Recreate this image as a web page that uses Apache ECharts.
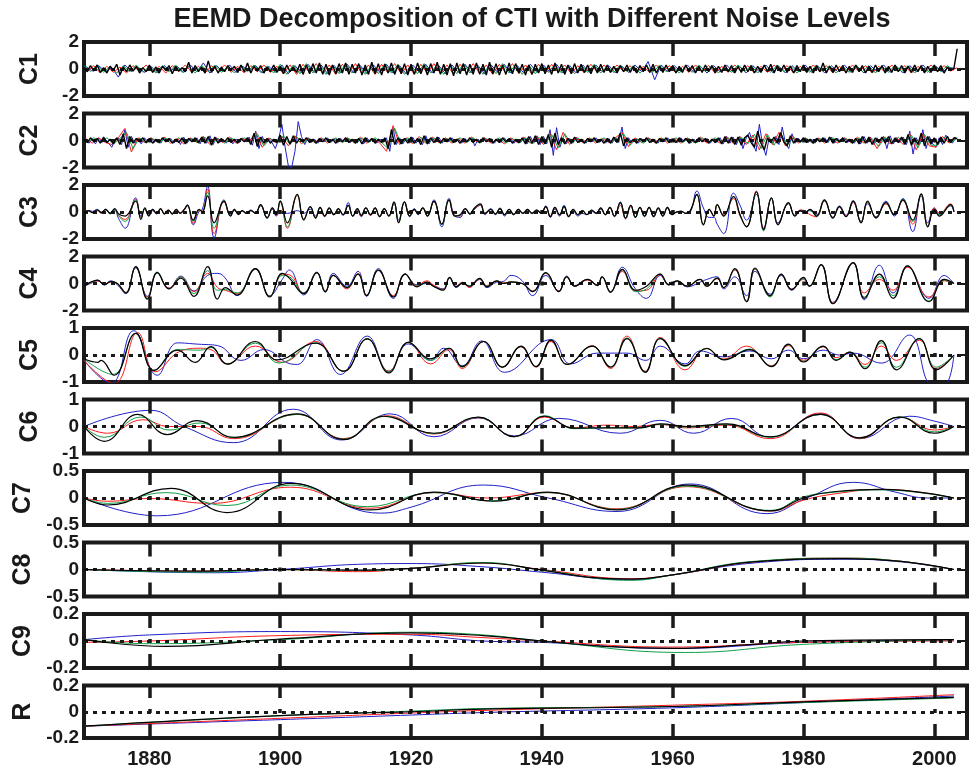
<!DOCTYPE html>
<html>
<head>
<meta charset="utf-8">
<script src="https://cdn.jsdelivr.net/npm/echarts@6/dist/echarts.min.js"></script>
<style>
html,body{margin:0;padding:0;background:#fff}
#chart{width:972px;height:769px}
</style>
</head>
<body>
<div id="chart"></div>
<script>
// ---------- data ----------
var panelNames = ['C1','C2','C3','C4','C5','C6','C7','C8','C9','R'];
var panelMin = [-2,-2,-2,-2,-1,-1,-0.5,-0.5,-0.2,-0.2];
var panelMax = [2,2,2,2,1,1,0.5,0.5,0.2,0.2];
var panelStep = [2,2,2,2,1,1,0.5,0.5,0.2,0.2];
var gridYears = [1880,1900,1920,1940,1960,1980,2000];

// C1: black every half year from 1870, colours yearly
var c1Black = [
 0.1,-0.2,0.25,-0.15,0.3,-0.25,0.1,-0.3,0.2,-0.1, 0.35,-0.45,0.15,-0.2,0.3,-0.15,0.2,-0.3,0.1,-0.2,
 0.3,-0.25,0.15,-0.3,0.2,-0.1,0.25,-0.35,0.2,-0.15, 0.1,-0.2,0.5,-0.3,0.25,-0.2,0.15,-0.3,0.6,-0.25,
 0.2,-0.3,0.15,-0.2,0.25,-0.1,0.2,-0.25,0.3,-0.2, 0.45,-0.3,0.2,-0.15,0.25,-0.3,0.15,-0.2,0.3,-0.25,
 0.2,-0.35,0.3,-0.2,0.15,-0.25,0.35,-0.4,0.3,-0.35, 0.4,-0.3,0.45,-0.4,0.35,-0.45,0.3,-0.35,0.4,-0.3,
 0.45,-0.4,0.35,-0.3,0.4,-0.45,0.3,-0.4,0.5,-0.35, 0.4,-0.45,0.35,-0.3,0.45,-0.4,0.3,-0.35,0.4,-0.45,
 0.35,-0.4,0.45,-0.35,0.3,-0.45,0.4,-0.3,0.5,-0.4, 0.35,-0.45,0.4,-0.5,0.45,-0.35,0.4,-0.45,0.35,-0.4,
 0.45,-0.4,0.35,-0.45,0.5,-0.35,0.4,-0.45,0.3,-0.4, 0.45,-0.35,0.4,-0.3,0.35,-0.45,0.3,-0.4,0.35,-0.3,
 0.4,-0.35,0.3,-0.4,0.45,-0.3,0.35,-0.4,0.3,-0.35, 0.4,-0.3,0.35,-0.25,0.3,-0.35,0.25,-0.3,0.35,-0.25,
 0.3,-0.25,0.2,-0.3,0.25,-0.2,0.3,-0.25,0.2,-0.3, 0.25,-0.2,0.3,-0.25,0.35,-0.3,0.2,-0.25,0.3,-0.2,
 0.25,-0.3,0.2,-0.25,0.3,-0.2,0.25,-0.3,0.2,-0.25, 0.3,-0.2,0.25,-0.3,0.2,-0.25,0.3,-0.2,0.25,-0.3,
 0.2,-0.25,0.3,-0.2,0.25,-0.3,0.2,-0.25,0.3,-0.2, 0.35,-0.3,0.25,-0.2,0.3,-0.25,0.2,-0.3,0.25,-0.2,
 0.3,-0.25,0.2,-0.3,0.25,-0.2,0.45,-0.3,0.2,-0.25, 0.3,-0.2,0.25,-0.3,0.2,-0.25,0.3,-0.2,0.25,-0.3,
 0.2,-0.25,0.3,-0.2,0.25,-0.3,0.2,-0.25,0.3,-0.2, 0.25,-0.3,0.2,-0.25,0.3,-0.2,0.25,-0.3,0.2,-0.25,
 0.3,-0.2,0.25,-0.3,0.15,-0.1,0.05,1.5];
var c1Blue = [
 0.2,-0.15,0.25,-0.2,0.1,-0.6,0.3,-0.2,0.15,-0.25, 0.2,-0.3,0.25,-0.15,0.2,-0.25,0.3,-0.2,0.45,-0.3,
 0.25,-0.2,0.3,-0.25,0.2,-0.15,0.25,-0.3,0.2,-0.25, 0.3,-0.35,0.25,-0.3,0.35,-0.25,0.3,-0.35,0.25,-0.3,
 0.35,-0.3,0.25,-0.35,0.3,-0.25,0.35,-0.3,0.25,-0.35, 0.3,-0.25,0.35,-0.3,0.25,-0.35,0.3,-0.25,0.35,-0.3,
 0.25,-0.35,0.3,-0.25,0.35,-0.3,0.25,-0.3,0.35,-0.25, 0.3,-0.25,0.35,-0.3,0.25,-0.3,0.3,-0.25,0.3,-0.2,
 0.25,-0.3,0.2,-0.25,0.3,-0.2,0.55,-0.8,0.3,-0.2, 0.25,-0.2,0.3,-0.25,0.2,-0.3,0.25,-0.2,0.3,-0.25,
 0.2,-0.3,0.25,-0.2,0.3,-0.25,0.2,-0.3,0.25,-0.2, 0.3,-0.25,0.2,-0.3,0.25,-0.2,0.3,-0.25,0.2,-0.3,
 0.25,-0.2,0.3,-0.25,0.2,-0.3,0.25,-0.2,0.3,-0.25, 0.2,-0.2,0.1,0.05];
var c1Red = [
 -0.2,0.25,-0.3,0.2,-0.25,0.15,-0.3,0.25,-0.2,0.3, -0.25,0.2,-0.3,0.25,-0.2,0.3,-0.25,0.2,-0.3,0.25,
 -0.2,0.3,-0.25,0.2,-0.3,0.25,-0.2,0.3,-0.25,0.2, -0.35,0.3,-0.4,0.35,-0.3,0.4,-0.35,0.3,-0.4,0.35,
 -0.3,0.4,-0.35,0.3,-0.4,0.35,-0.3,0.4,-0.35,0.3, -0.4,0.35,-0.3,0.4,-0.35,0.3,-0.4,0.35,-0.3,0.4,
 -0.35,0.3,-0.4,0.35,-0.3,0.4,-0.35,0.3,-0.4,0.35, -0.3,0.35,-0.25,0.3,-0.35,0.25,-0.3,0.35,-0.25,0.3,
 -0.25,0.3,-0.2,0.25,-0.3,0.2,-0.25,0.3,-0.2,0.25, -0.3,0.2,-0.25,0.3,-0.2,0.25,-0.3,0.2,-0.25,0.3,
 -0.2,0.25,-0.3,0.2,-0.25,0.3,-0.2,0.25,-0.3,0.2, -0.25,0.3,-0.2,0.25,-0.3,0.2,-0.25,0.3,-0.2,0.25,
 -0.3,0.2,-0.25,0.3,-0.2,0.25,-0.3,0.2,-0.25,0.3, -0.2,0.25,-0.15,0.1];
var c1Green = [
 0.25,-0.2,0.3,-0.25,0.2,-0.3,0.25,-0.2,0.3,-0.25, 0.2,-0.3,0.25,-0.2,0.3,-0.25,0.2,-0.3,0.25,-0.2,
 0.3,-0.25,0.2,-0.3,0.25,-0.2,0.3,-0.25,0.2,-0.3, 0.35,-0.4,0.3,-0.35,0.4,-0.3,0.35,-0.4,0.3,-0.35,
 0.4,-0.3,0.35,-0.4,0.3,-0.35,0.4,-0.3,0.35,-0.4, 0.3,-0.35,0.4,-0.3,0.35,-0.4,0.3,-0.35,0.4,-0.3,
 0.35,-0.4,0.3,-0.35,0.4,-0.3,0.35,-0.4,0.3,-0.35, 0.3,-0.25,0.35,-0.3,0.25,-0.35,0.3,-0.25,0.35,-0.3,
 0.2,-0.25,0.3,-0.2,0.25,-0.3,0.2,-0.25,0.3,-0.2, 0.25,-0.3,0.2,-0.25,0.3,-0.2,0.25,-0.3,0.2,-0.25,
 0.3,-0.2,0.25,-0.3,0.2,-0.25,0.3,-0.2,0.25,-0.3, 0.2,-0.25,0.3,-0.2,0.25,-0.3,0.2,-0.25,0.3,-0.2,
 0.25,-0.3,0.2,-0.25,0.3,-0.2,0.25,-0.3,0.2,-0.25, 0.3,-0.2,0.25,-0.1];

// C2: black and blue every half year, red and green yearly
var c2Black = [
 0.1,-0.15,0.2,-0.1,0.15,-0.2,0.25,-0.15,0.1,-0.25, 0.2,-0.3,0.5,-0.6,0.3,-0.2,0.15,-0.1,0.2,-0.15,
 0.15,-0.2,0.1,-0.15,0.2,-0.1,0.15,-0.2,0.1,-0.15, 0.2,-0.25,0.15,-0.1,0.2,-0.15,0.25,-0.2,0.3,-0.35,
 0.25,-0.2,0.15,-0.1,0.2,-0.15,0.1,-0.2,0.15,-0.1, 0.2,-0.3,0.55,-0.45,0.25,-0.2,0.15,-0.2,0.1,-0.15,
 0.4,-0.35,0.3,-0.25,0.35,-0.2,0.15,-0.1,0.2,-0.15, 0.1,-0.2,0.15,-0.1,0.2,-0.15,0.1,-0.2,0.15,-0.1,
 0.2,-0.15,0.1,-0.2,0.15,-0.25,0.2,-0.1,0.15,-0.2, 0.1,-0.15,0.2,-0.6,0.8,-0.3,0.2,-0.25,0.15,-0.2,
 0.25,-0.2,0.15,-0.3,0.35,-0.25,0.2,-0.15,0.25,-0.2, 0.15,-0.1,0.2,-0.15,0.1,-0.2,0.15,-0.1,0.2,-0.15,
 0.1,-0.15,0.2,-0.1,0.15,-0.2,0.1,-0.15,0.2,-0.1, 0.15,-0.2,0.1,-0.15,0.2,-0.25,0.3,-0.2,0.35,-0.3,
 0.3,-0.25,0.45,-0.5,0.55,-0.3,0.2,-0.25,0.15,-0.2, 0.25,-0.15,0.1,-0.2,0.15,-0.1,0.2,-0.15,0.1,-0.2,
 0.15,-0.2,0.25,-0.15,0.55,-0.4,0.2,-0.15,0.1,-0.2, 0.15,-0.1,0.2,-0.15,0.1,-0.2,0.15,-0.1,0.2,-0.15,
 0.1,-0.15,0.2,-0.1,0.15,-0.2,0.1,-0.15,0.2,-0.1, 0.15,-0.2,0.1,-0.15,0.2,-0.25,0.3,-0.2,0.25,-0.3,
 0.25,-0.35,0.2,0.4,-0.15,-0.5,0.7,-0.2,-0.7,0.2, -0.15,0.25,-0.2,0.6,-0.1,-0.4,0.35,-0.2,0.15,-0.1,
 0.2,-0.15,0.1,-0.2,0.15,-0.1,0.2,-0.15,0.25,-0.2, 0.15,-0.1,0.2,-0.15,0.1,-0.2,0.15,-0.25,0.3,-0.2,
 0.25,-0.3,0.2,-0.15,0.25,-0.2,0.3,-0.25,0.2,-0.15, 0.25,-0.3,0.45,-0.35,0.2,-0.3,0.55,-0.4,0.3,-0.25,
 0.2,-0.3,0.25,-0.2,0.3,-0.15,0.2,0.15];
var c2Blue = [
 0.15,-0.2,0.1,-0.25,0.2,-0.15,0.1,-0.2,-0.5,0.1, 0.2,-0.3,0.8,-0.5,0.3,-0.2,0.15,-0.25,0.2,-0.1,
 0.2,-0.15,0.1,-0.2,0.25,-0.1,0.15,-0.2,0.1,-0.3, 0.25,-0.2,0.15,-0.1,0.2,-0.25,0.3,-0.2,0.35,-0.3,
 0.2,-0.15,0.1,-0.2,0.15,-0.25,0.1,-0.15,0.2,-0.1, 0.25,-0.35,0.7,-0.6,0.3,-0.2,0.1,-0.15,-0.6,0.1,
 1.2,-0.5,-1.9,-2.0,-0.8,1.4,0.3,-0.3,0.2,-0.15, 0.1,-0.2,0.15,-0.1,0.2,-0.15,0.1,-0.2,0.15,-0.1,
 0.2,-0.15,0.1,-0.2,0.15,-0.25,0.2,-0.1,0.15,-0.2, 0.1,-0.15,0.2,-0.8,0.9,-0.3,0.2,-0.25,0.15,-0.2,
 0.25,-0.2,0.15,-0.3,0.35,-0.25,0.2,-0.15,0.25,-0.2, 0.15,-0.1,0.2,-0.15,0.1,-0.2,0.15,-0.1,0.2,-0.4,
 0.1,-0.15,0.2,-0.1,0.15,-0.2,0.1,-0.15,0.2,-0.1, 0.15,-0.2,0.1,-0.15,0.2,-0.25,0.3,-0.2,0.35,-0.3,
 0.3,-0.25,0.8,-1.1,0.95,-0.5,0.2,-0.25,0.15,-0.2, 0.25,-0.15,0.1,-0.2,0.15,-0.1,0.2,-0.15,0.1,-0.2,
 0.15,-0.2,0.25,-0.15,1.0,-0.6,0.2,-0.15,0.1,-0.2, 0.15,-0.1,0.2,-0.15,0.1,-0.2,0.15,-0.1,0.2,-0.15,
 0.1,-0.15,0.2,-0.1,0.15,-0.2,0.1,-0.15,0.2,-0.1, 0.15,-0.2,0.1,-0.15,0.2,-0.25,0.3,-0.2,0.25,-0.3,
 0.3,-0.6,0.2,0.6,-0.2,-0.8,1.2,-0.3,-1.1,0.2, -0.2,0.3,-0.3,1.0,-0.2,-0.6,0.5,-0.2,0.15,-0.1,
 0.2,-0.15,0.1,-0.2,0.15,-0.1,0.2,-0.15,0.25,-0.2, 0.15,-0.1,0.2,-0.15,0.1,-0.2,0.15,-0.25,0.3,-0.2,
 0.25,-0.3,0.2,-0.15,0.3,-0.6,0.35,-0.25,0.2,-0.15, 0.25,-0.3,0.7,-1.0,0.2,-0.3,0.8,-0.6,0.3,-0.25,
 -0.5,0.2,-0.3,0.4,0.1,-0.2,0.15];
var c2Red = [
 0.15,-0.2,0.2,-0.15,-0.3,0.2,0.9,-0.85,0.2,-0.15, 0.2,-0.15,0.25,-0.2,0.15,-0.25,0.2,-0.15,0.3,-0.3,
 0.2,-0.15,0.25,-0.2,0.15,-0.1,0.6,-0.5,0.2,-0.15, 0.3,-0.4,0.35,-0.25,0.2,-0.15,0.2,-0.2,0.15,-0.1,
 0.2,-0.15,0.25,-0.2,0.15,-0.2,-0.8,1.1,-0.3,0.2, -0.25,0.3,-0.2,0.25,-0.15,0.2,-0.2,0.15,-0.2,0.25,
 -0.15,0.2,-0.2,0.15,-0.25,0.2,-0.15,0.25,-0.2,0.3, -0.3,0.5,-0.7,0.6,-0.3,0.2,-0.15,0.2,-0.2,0.15,
 -0.15,0.2,0.6,-0.45,0.2,-0.15,0.2,-0.15,0.2,-0.2, 0.15,-0.2,0.2,-0.15,0.25,-0.2,0.15,-0.2,0.25,-0.2,
 0.3,-0.3,0.4,-0.7,0.5,-0.3,0.6,-0.4,0.3,-0.2, 0.2,-0.15,0.2,-0.2,0.15,-0.2,0.2,-0.15,0.25,-0.2,
 0.2,-0.6,0.3,-0.25,0.2,-0.3,0.5,-0.7,0.5,-0.4, -0.5,0.3,-0.2,0.2];
var c2Green = [
 -0.15,0.2,-0.1,0.2,-0.25,0.15,0.6,-0.6,0.2,-0.2, 0.15,-0.2,0.2,-0.15,0.2,-0.2,0.15,-0.2,0.25,-0.25,
 0.15,-0.2,0.2,-0.15,0.2,-0.1,0.5,-0.4,0.15,-0.2, 0.35,-0.3,0.3,-0.2,0.15,-0.2,0.15,-0.15,0.2,-0.15,
 0.15,-0.2,0.2,-0.15,0.2,-0.15,-0.6,0.9,-0.25,0.2, -0.2,0.25,-0.25,0.2,-0.2,0.15,-0.15,0.2,-0.15,0.2,
 -0.2,0.15,-0.15,0.2,-0.2,0.15,-0.2,0.2,-0.25,0.25, -0.25,0.45,-0.55,0.5,-0.25,0.2,-0.2,0.15,-0.15,0.2,
 -0.2,0.15,0.5,-0.35,0.15,-0.2,0.15,-0.2,0.15,-0.15, 0.2,-0.15,0.15,-0.2,0.2,-0.15,0.2,-0.15,0.2,-0.25,
 0.25,-0.25,0.45,-0.6,0.45,-0.35,0.55,-0.35,0.25,-0.15, 0.15,-0.2,0.15,-0.15,0.2,-0.15,0.15,-0.2,0.2,-0.15,
 0.15,-0.45,0.25,-0.2,0.25,-0.25,0.4,-0.55,0.45,-0.35, -0.35,0.25,-0.15,0.15];

// C3: shared years, one value list per run
var c3Years = [
 1870.0,1870.7,1871.3,1872.0,1872.7,1873.3,1874.0,1874.7,1875.3,1876.3,
 1877.9,1878.7,1879.3,1879.9,1880.5,1881.1,1881.7,1882.3,1882.9,1883.5,
 1884.1,1884.7,1885.3,1885.8,1886.7,1887.6,1888.1,1888.9,1889.9,1891.4,
 1892.4,1893.0,1893.6,1894.2,1894.8,1895.5,1896.2,1897.0,1898.0,1898.8,
 1899.4,1900.0,1901.1,1902.6,1903.6,1904.6,1905.4,1906.1,1906.8,1907.5,
 1908.2,1908.9,1909.6,1910.4,1911.1,1911.8,1912.4,1913.1,1913.8,1914.5,
 1915.2,1915.9,1916.6,1917.4,1918.1,1919.0,1919.8,1920.5,1921.1,1921.8,
 1922.5,1923.5,1924.7,1925.8,1926.7,1927.5,1928.3,1929.0,1929.7,1930.6,
 1931.3,1932.2,1932.9,1933.6,1934.3,1935.0,1935.7,1936.4,1937.1,1937.8,
 1938.5,1939.2,1939.9,1940.6,1941.3,1942.0,1942.7,1943.4,1944.1,1944.8,
 1945.5,1946.2,1946.9,1947.6,1948.3,1949.0,1949.7,1950.4,1951.1,1952.0,
 1952.8,1953.6,1954.3,1955.0,1955.7,1956.4,1957.1,1957.8,1958.5,1959.2,
 1959.9,1960.6,1961.3,1962.0,1962.7,1963.7,1964.7,1965.6,1966.3,1966.8,
 1967.8,1969.3,1970.3,1971.3,1972.8,1973.9,1975.1,1976.1,1977.7,1978.7,
 1979.5,1980.2,1981.0,1982.0,1983.2,1984.5,1985.5,1986.5,1987.6,1988.8,
 1989.8,1991.1,1992.6,1993.9,1995.2,1996.7,1998.0,1999.0,2000.0,2000.8,
 2002.5,2003.0];
var c3Black = [
 -0.1,0.1,-0.05,0.15,-0.05,0.2,-0.1,0.25,-0.15,-0.3,
 0.8,-0.55,0.3,-0.3,0.2,-0.1,0.25,-0.15,0.15,-0.15,
 0.2,-0.1,0.15,0.5,-0.6,0.2,0.0,1.2,-0.8,0.8,
 -0.3,0.2,-0.2,0.1,-0.1,0.1,-0.1,0.55,-0.45,0.3,
 -0.2,0.8,-0.8,1.3,-0.6,0.4,-0.45,0.35,-0.3,0.3,
 -0.2,0.25,-0.2,0.5,-0.3,0.25,-0.25,0.3,-0.2,0.3,
 -0.35,0.25,-0.3,0.75,-0.8,0.75,-0.3,0.2,-0.15,0.3,
 -0.3,0.8,-0.9,0.9,-0.3,-0.2,0.25,-0.15,0.3,0.6,
 -0.1,0.2,-0.15,0.25,-0.2,0.2,-0.2,0.2,-0.1,0.2,
 -0.1,0.15,-0.1,0.4,-0.35,0.35,-0.2,0.4,-0.35,0.2,
 -0.2,0.1,-0.2,0.15,-0.1,0.3,-0.2,0.35,-0.3,0.7,
 -0.45,0.5,-0.4,0.35,-0.3,0.35,-0.35,0.3,-0.3,0.35,
 -0.2,0.0,0.05,-0.1,0.1,1.3,-0.95,0.2,-0.3,0.55,
 -0.3,1.15,-0.2,-1.1,1.5,-1.3,1.05,-0.95,0.7,-0.3,
 0.1,-0.05,0.2,-0.3,0.9,-0.45,0.4,-0.35,0.8,-0.8,
 0.8,-0.45,0.7,-0.2,0.9,-0.6,1.35,-1.1,0.2,-0.3,
 0.55,0.0];
var c3Red = [
 -0.05,0.1,0.0,0.1,-0.1,0.15,-0.1,0.2,-0.25,-0.55,
 0.95,-0.4,0.2,-0.25,0.15,-0.1,0.2,-0.1,0.15,-0.1,
 0.15,-0.05,0.2,0.45,-0.85,0.1,0.1,1.7,-1.6,0.75,
 -0.25,0.15,-0.15,0.1,-0.1,0.1,-0.1,0.5,-0.4,0.25,
 -0.25,0.7,-1.2,1.2,-0.5,0.35,-0.4,0.3,-0.35,0.25,
 -0.2,0.2,-0.2,0.45,-0.3,0.2,-0.3,0.3,-0.25,0.25,
 -0.3,0.2,-0.3,0.65,-0.7,0.7,-0.3,0.15,-0.1,0.25,
 -0.25,0.75,-0.9,0.85,-0.25,-0.3,0.2,-0.15,0.25,0.5,
 -0.15,0.2,-0.15,0.2,-0.2,0.2,-0.2,0.2,-0.1,0.15,
 -0.1,0.15,-0.1,0.35,-0.3,0.3,-0.25,0.35,-0.3,0.15,
 -0.2,0.1,-0.2,0.1,-0.1,0.25,-0.2,0.3,-0.3,0.5,
 -0.5,0.4,-0.35,0.3,-0.3,0.3,-0.3,0.25,-0.25,0.3,
 -0.2,0.0,0.05,-0.1,0.1,1.25,-0.9,0.15,-0.3,0.5,
 -0.2,1.0,-0.3,-1.05,1.55,-1.3,1.0,-0.9,0.65,-0.25,
 0.15,0.1,-0.2,-0.35,0.85,-0.4,0.35,-0.3,0.7,-0.75,
 0.7,-0.4,0.6,-0.15,0.85,-0.9,1.3,-1.05,0.3,-0.1,
 0.6,0.05];
var c3Green = [
 -0.1,0.05,-0.05,0.15,-0.05,0.2,-0.15,0.2,-0.3,-0.7,
 0.9,-0.45,0.25,-0.25,0.2,-0.1,0.25,-0.15,0.1,-0.15,
 0.2,-0.1,0.15,0.5,-0.7,0.15,0.05,1.45,-1.2,0.85,
 -0.3,0.2,-0.15,0.1,-0.1,0.1,-0.1,0.55,-0.45,0.3,
 -0.2,0.85,-1.1,1.3,-0.55,0.4,-0.45,0.35,-0.3,0.3,
 -0.2,0.25,-0.2,0.5,-0.3,0.25,-0.25,0.3,-0.2,0.3,
 -0.35,0.25,-0.3,0.75,-0.8,0.75,-0.3,0.2,-0.15,0.3,
 -0.3,0.8,-0.95,0.9,-0.3,-0.25,0.25,-0.15,0.3,0.55,
 -0.1,0.2,-0.15,0.25,-0.2,0.2,-0.2,0.2,-0.1,0.2,
 -0.1,0.15,-0.1,0.4,-0.35,0.35,-0.2,0.4,-0.35,0.2,
 -0.2,0.1,-0.2,0.15,-0.1,0.3,-0.2,0.35,-0.3,0.65,
 -0.45,0.5,-0.4,0.35,-0.3,0.35,-0.35,0.3,-0.3,0.35,
 -0.2,0.0,0.05,-0.1,0.1,1.3,-0.95,0.2,-0.3,0.55,
 -0.3,1.1,-0.2,-1.1,1.45,-1.4,1.05,-0.95,0.7,-0.3,
 0.1,0.0,0.15,-0.35,0.9,-0.45,0.4,-0.35,0.8,-0.8,
 0.75,-0.45,0.7,-0.2,0.95,-0.7,1.35,-1.1,0.2,-0.2,
 0.5,0.05];
var c3Blue = [
 0.0,0.1,0.05,0.2,0.0,0.2,-0.1,0.1,-0.5,-1.2,
 1.05,-0.3,0.2,-0.2,0.1,-0.15,0.2,-0.1,0.1,-0.1,
 0.15,-0.05,0.2,0.55,-0.95,0.05,0.2,1.9,-1.9,0.9,
 -0.2,0.1,-0.1,0.05,-0.05,0.15,-0.05,0.45,-0.4,0.2,
 -0.3,0.0,-0.1,0.1,-0.1,0.2,-0.3,0.3,-0.3,0.25,
 -0.15,0.2,-0.25,0.7,-0.3,0.1,-0.35,0.3,-0.25,0.3,
 -0.3,0.2,-0.25,0.6,-0.6,0.75,-0.35,0.25,-0.2,0.3,
 -0.3,0.9,-1.1,1.0,-0.3,-0.4,0.2,-0.1,0.2,0.5,
 -0.2,0.25,-0.2,0.3,-0.3,0.2,-0.15,0.15,-0.1,0.1,
 -0.1,0.1,-0.05,0.45,-0.4,0.2,-0.3,0.5,-0.3,0.1,
 -0.3,-0.1,-0.2,0.05,-0.05,0.2,-0.2,0.3,-0.35,0.75,
 -0.5,0.5,-0.4,0.3,-0.35,0.3,-0.3,0.25,-0.3,0.3,
 -0.2,0.0,0.05,-0.1,0.0,1.55,0.3,-0.4,-0.4,-0.9,
 -1.6,1.4,0.5,-0.6,1.3,-1.2,1.0,-0.8,0.6,-0.25,
 0.05,0.0,0.1,-0.2,0.8,-0.4,0.45,-0.25,0.85,-0.7,
 0.6,-0.35,0.8,-0.3,1.0,-1.45,1.2,-0.8,0.3,-0.2,
 0.45,0.0];

// C4: shared years
var c4Years = [
 1870.0,1871.0,1872.1,1873.1,1874.1,1875.1,1876.4,1877.9,1879.7,1881.2,
 1883.0,1884.8,1886.8,1888.9,1890.4,1891.6,1893.4,1896.2,1898.4,1900.3,
 1901.4,1903.6,1905.6,1906.9,1908.1,1910.2,1911.9,1913.2,1915.0,1917.3,
 1919.1,1920.9,1922.4,1923.4,1924.9,1925.9,1926.9,1927.9,1928.9,1930.5,
 1931.6,1933.1,1934.1,1935.3,1937.0,1938.6,1940.6,1942.6,1943.8,1945.0,
 1947.0,1948.5,1949.2,1950.5,1952.3,1954.3,1956.0,1958.1,1959.4,1960.7,
 1962.2,1964.2,1965.2,1966.8,1967.8,1969.5,1971.3,1972.6,1974.9,1976.6,
 1978.2,1980.0,1980.9,1982.7,1984.5,1987.6,1989.3,1991.6,1993.7,1995.9,
 1999.2,2001.5,2003.0];
var c4Black = [
 -0.2,0.1,0.25,-0.1,0.15,0.0,-0.7,1.25,-1.15,0.8,
 -0.4,0.4,-0.95,1.25,-1.15,-0.3,-0.85,1.1,-1.0,0.75,
 0.4,-0.75,0.8,-0.6,0.6,-0.3,0.7,-0.9,1.0,-1.0,
 0.7,-0.25,0.1,-0.2,-0.5,0.45,-0.25,0.05,-0.2,0.38,
 -0.25,0.2,0.0,0.12,0.0,-0.6,0.8,-0.6,0.5,-0.2,
 0.3,-0.15,0.5,-0.65,1.05,-0.5,-0.2,0.7,-0.1,0.2,
 -0.2,0.3,-0.2,0.4,-0.3,1.1,-1.35,1.15,-0.9,0.7,
 -0.45,0.45,-0.2,1.4,-1.5,1.55,-1.1,0.7,-1.1,1.3,
 -1.35,0.3,0.0];
var c4Red = [
 -0.2,0.05,0.2,-0.05,0.1,0.0,-0.65,1.2,-1.0,0.8,
 -0.35,0.5,-0.6,0.75,-0.3,-0.5,-0.75,1.05,-0.95,0.7,
 0.65,-0.7,0.8,-0.55,0.6,-0.4,0.75,-0.85,0.95,-0.9,
 0.7,-0.15,0.2,-0.1,-0.45,0.4,-0.2,0.1,-0.3,0.3,
 -0.15,0.15,0.05,0.1,0.0,-0.55,0.75,-0.55,0.45,-0.2,
 0.25,-0.1,0.45,-0.6,0.9,-0.55,-0.5,0.65,-0.1,0.2,
 -0.2,0.3,-0.2,0.35,-0.3,1.0,-1.3,1.05,-0.95,0.65,
 -0.4,0.3,-0.2,1.35,-1.45,1.5,-0.7,0.3,-0.5,1.2,
 -1.0,0.2,0.0];
var c4Green = [
 -0.2,0.05,0.25,-0.05,0.15,0.0,-0.7,1.25,-1.1,0.85,
 -0.4,0.5,-0.75,0.95,-0.5,-0.45,-0.7,1.1,-0.95,0.6,
 0.5,-0.7,0.8,-0.6,0.6,-0.3,0.7,-0.9,1.0,-1.0,
 0.7,-0.2,0.1,-0.2,-0.5,0.45,-0.25,0.05,-0.2,0.35,
 -0.2,0.2,0.0,0.1,0.0,-0.6,0.8,-0.6,0.5,-0.2,
 0.3,-0.15,0.5,-0.65,1.0,-0.6,-0.4,0.7,-0.1,0.2,
 -0.2,0.3,-0.2,0.4,-0.3,1.05,-1.35,1.1,-1.0,0.7,
 -0.45,0.35,-0.2,1.4,-1.5,1.55,-1.0,0.5,-0.9,1.3,
 -1.3,0.25,0.0];
var c4Blue = [
 -0.2,0.0,0.2,-0.1,0.2,-0.1,-0.75,1.15,-0.95,0.8,
 -0.35,0.55,-0.55,0.6,0.75,0.4,-0.9,1.05,-0.9,0.3,
 1.0,-0.85,0.85,-0.65,0.75,-0.2,0.9,-0.95,1.1,-1.1,
 0.7,-0.1,0.0,-0.15,-0.4,0.4,-0.3,0.0,-0.25,0.3,
 -0.3,0.1,0.15,0.6,0.2,-0.9,0.6,-0.55,0.55,-0.15,
 0.3,-0.15,0.5,-0.6,1.2,-0.4,-1.1,0.6,-0.05,0.15,
 -0.25,0.1,0.3,0.5,-0.4,0.5,-0.9,0.9,-0.8,0.6,
 -0.5,0.4,-0.2,1.4,-1.4,1.5,-1.2,1.35,-0.7,1.25,
 -1.1,0.6,0.0];

// C5 .. R: [year, value] at turning points
var c5Black = [[1870,-0.14],[1872.1,-0.27],[1872.6,-0.2],[1874.6,-0.75],[1877.9,0.8],[1880.7,-0.57],[1884.3,0.18],[1887.0,-0.27],[1889.4,0.31],[1891.9,-0.34],[1896.2,0.5],[1899.5,-0.18],[1905.4,0.44],[1909.7,-0.6],[1913.3,0.6],[1916.6,-0.66],[1919.6,0.47],[1923.0,-0.14],[1925.8,0.25],[1927.8,-0.43],[1931.1,0.5],[1934.0,-0.45],[1936.8,0.33],[1939.1,-0.43],[1941.4,0.55],[1943.9,-0.35],[1947.7,0.33],[1950.5,-0.45],[1953.0,0.61],[1955.8,-0.64],[1958.1,0.61],[1961.9,-0.39],[1965.2,0.24],[1967.8,-0.18],[1971.8,0.2],[1975.1,-0.43],[1977.7,0.4],[1980.0,-0.26],[1983.0,0.33],[1985.0,-0.2],[1987.1,0.11],[1989.4,-0.51],[1991.9,0.53],[1994.2,-0.55],[1997.7,0.61],[2000.3,-0.55],[2003,0]];
var c5Red = [[1870,-0.2],[1874.6,-1.05],[1878.2,0.83],[1880.9,-0.62],[1884.8,0.15],[1887.8,0.25],[1889.4,0.2],[1891.9,-0.33],[1896.2,0.33],[1900.3,-0.27],[1905.4,0.5],[1909.7,-0.6],[1913.3,0.6],[1916.6,-0.6],[1919.6,0.47],[1923.0,-0.33],[1925.8,0.2],[1927.8,-0.5],[1931.1,0.5],[1934.0,-0.45],[1936.8,0.3],[1939.1,-0.45],[1941.4,0.5],[1943.9,-0.35],[1947.7,0.35],[1950.5,-0.5],[1953.0,0.7],[1955.8,-0.6],[1958.1,0.65],[1961.9,-0.55],[1965.2,0.25],[1967.8,-0.15],[1971.3,0.33],[1975.1,-0.4],[1977.7,0.35],[1980.0,-0.2],[1983.0,0.3],[1985.0,-0.1],[1987.1,0.1],[1989.4,-0.35],[1991.9,0.33],[1994.2,-0.2],[1997.7,0.55],[2000.3,-0.5],[2003,0]];
var c5Green = [[1870,-0.14],[1874.4,-0.72],[1877.9,0.8],[1880.7,-0.57],[1884.3,0.2],[1887.8,0.18],[1889.4,0.28],[1891.9,-0.33],[1896.2,0.44],[1899.8,-0.3],[1905.4,0.45],[1909.7,-0.6],[1913.3,0.6],[1916.6,-0.62],[1919.6,0.47],[1923.0,-0.2],[1925.8,0.25],[1927.8,-0.45],[1931.1,0.5],[1934.0,-0.45],[1936.8,0.32],[1939.1,-0.43],[1941.4,0.55],[1943.9,-0.35],[1947.7,0.33],[1950.5,-0.45],[1953.0,0.63],[1955.8,-0.62],[1958.1,0.62],[1961.9,-0.42],[1965.2,0.24],[1967.8,-0.17],[1971.8,0.22],[1975.1,-0.42],[1977.7,0.38],[1980.0,-0.24],[1983.0,0.32],[1985.0,-0.17],[1987.1,0.11],[1989.4,-0.45],[1991.9,0.45],[1994.2,-0.45],[1997.7,0.6],[2000.3,-0.45],[2003,0]];
var c5Blue = [[1870,-0.2],[1874.1,-1.05],[1877.6,0.9],[1881.2,-0.75],[1884.3,0.45],[1887.5,0.4],[1890.4,0.35],[1894.0,-0.2],[1897.5,0.2],[1901.6,-0.33],[1902.6,-0.35],[1905.6,0.57],[1909.2,-0.72],[1913.3,0.7],[1916.6,-0.6],[1919.6,0.41],[1923.0,-0.2],[1925.0,0.25],[1927.8,-0.4],[1930.8,0.52],[1934.3,-0.64],[1941.4,0.57],[1944.4,-0.33],[1948.5,0.07],[1953.0,0.07],[1955.9,-0.2],[1958.1,0.33],[1961.9,-0.33],[1964.2,0.15],[1967.8,-0.07],[1971.8,0.15],[1975.1,-0.14],[1977.7,0.18],[1980.0,-0.14],[1983.0,0.18],[1985.5,0.0],[1987.6,0.07],[1991.9,-0.3],[1996.2,0.74],[1999.7,-1.1],[2001.5,-1.1],[2003,0]];

var c6Black = [[1870,0],[1873.1,-0.55],[1878.2,0.45],[1882.7,-0.3],[1887.3,0.22],[1892.9,-0.4],[1902.6,0.47],[1909.7,-0.48],[1915.8,0.38],[1923.5,-0.25],[1930.3,0.35],[1935.8,-0.38],[1940.4,0.38],[1944.9,-0.06],[1950,-0.05],[1955,-0.05],[1958.1,0.1],[1962.2,0.0],[1968.3,0.1],[1974.9,-0.38],[1982.6,0.45],[1988.6,-0.42],[1994.7,0.35],[2000.0,-0.25],[2003,0]];
var c6Red = [[1870,0],[1873.6,-0.25],[1879.0,0.25],[1883.0,0.0],[1887.5,0.0],[1892.9,-0.45],[1902.6,0.45],[1909.7,-0.45],[1916.3,0.4],[1923.5,-0.28],[1930.3,0.33],[1935.8,-0.38],[1940.4,0.35],[1944.9,-0.05],[1950,0.05],[1954,0.0],[1958.1,0.07],[1962.2,-0.05],[1968.3,0.05],[1974.9,-0.45],[1982.6,0.5],[1988.6,-0.45],[1994.7,0.35],[2000,-0.13],[2003,0]];
var c6Green = [[1870,0],[1873.1,-0.4],[1878.7,0.35],[1883.0,-0.13],[1887.8,0.13],[1892.9,-0.42],[1902.6,0.45],[1909.7,-0.47],[1916.0,0.38],[1923.5,-0.26],[1930.3,0.34],[1935.8,-0.38],[1940.4,0.4],[1944.9,-0.08],[1950,-0.05],[1955,-0.05],[1958.1,0.08],[1962.2,-0.02],[1968.3,0.08],[1974.9,-0.4],[1982.6,0.45],[1988.6,-0.43],[1994.7,0.36],[2000,-0.2],[2003,0]];
var c6Blue = [[1870,0],[1880.2,0.6],[1885.3,0.0],[1892.9,-0.6],[1902.0,0.64],[1909.4,-0.5],[1916.8,0.47],[1923.5,-0.38],[1930.3,0.32],[1935.8,-0.35],[1942.6,0.3],[1952.0,-0.25],[1958.1,0.23],[1963.2,-0.25],[1969.0,0.3],[1974.9,-0.4],[1982.6,0.48],[1988.6,-0.45],[1996.2,0.38],[2000,0.2],[2003,0]];

var c7Black = [[1870,0],[1873.6,-0.13],[1883.3,0.18],[1891.9,-0.27],[1901.6,0.27],[1913.8,-0.22],[1923.5,0.11],[1932.7,-0.06],[1940.9,0.11],[1951.5,-0.22],[1962.2,0.24],[1974.9,-0.24],[1980,0],[1985,0.12],[1992,0.16],[2003,0]];
var c7Red = [[1870,0],[1873.6,-0.06],[1880,-0.01],[1889.4,-0.1],[1901.6,0.2],[1913.8,-0.19],[1923.5,0.1],[1931.7,0.0],[1940.9,0.1],[1951.5,-0.2],[1962.2,0.21],[1974.9,-0.24],[1980,-0.04],[1985,0.08],[1992,0.16],[2003,0]];
var c7Green = [[1870,0],[1873.6,-0.1],[1882.5,0.1],[1891.9,-0.14],[1901.6,0.24],[1913.3,-0.16],[1923.5,0.1],[1932.2,-0.05],[1940.9,0.1],[1951.5,-0.21],[1962.2,0.22],[1974.9,-0.23],[1980,0.02],[1985,0.11],[1992,0.15],[2003,0]];
var c7Blue = [[1870,0],[1881.2,-0.33],[1900.6,0.29],[1915.3,-0.28],[1920,-0.17],[1931.1,0.24],[1941,0.0],[1951.5,-0.25],[1962.7,0.26],[1974.4,-0.29],[1980.5,0],[1987.6,0.29],[1994,0.11],[1999,0],[2003,0]];

var c8Black = [[1870,0],[1887.8,-0.03],[1900,0],[1913,-0.01],[1920,0.02],[1931,0.12],[1940,-0.01],[1947,-0.14],[1953.6,-0.18],[1960,-0.1],[1972.3,0.14],[1986.5,0.2],[1995,0.15],[2003,0]];
var c8Red = [[1870,0],[1887.8,-0.03],[1900,0],[1912,-0.04],[1920,0.02],[1931,0.12],[1940,0.0],[1953.6,-0.17],[1960,-0.1],[1972.3,0.14],[1986.5,0.21],[1995,0.15],[2003,0]];
var c8Green = [[1870,0],[1887.8,-0.05],[1900,0],[1913,-0.02],[1920,0.02],[1931,0.13],[1940,-0.01],[1953.6,-0.2],[1960,-0.1],[1972.3,0.15],[1986.5,0.21],[1995,0.15],[2003,0]];
var c8Blue = [[1870,0],[1890,-0.06],[1900,0],[1913,0.1],[1920,0.11],[1931,0.05],[1940,-0.05],[1953.6,-0.19],[1960,-0.1],[1972.3,0.12],[1986.5,0.19],[1995,0.14],[2003,0]];

var c9Black = [[1870,0.01],[1882.5,-0.04],[1900,0.015],[1920,0.06],[1931,0.04],[1940,0],[1949.5,-0.04],[1960,-0.055],[1972.3,-0.025],[1980,0],[2003,0.01]];
var c9Red = [[1870,-0.01],[1880,0.0],[1900,0.04],[1920,0.05],[1931,0.025],[1940,0],[1960,-0.045],[1980,-0.01],[2003,0.0]];
var c9Green = [[1870,0.01],[1880,-0.02],[1900,0.01],[1920,0.065],[1931,0.045],[1940,0],[1962,-0.085],[1980,-0.025],[2003,0.01]];
var c9Blue = [[1870,0.01],[1880,0.045],[1900,0.07],[1920,0.045],[1931,0],[1940,-0.01],[1960,-0.055],[1980,-0.01],[2003,0.008]];

var rBlack = [[1870,-0.11],[1900,-0.03],[1920,0.0],[1931,0.02],[1960,0.04],[1980,0.075],[2003,0.11]];
var rRed = [[1870,-0.11],[1900,-0.05],[1920,-0.01],[1931,0.01],[1960,0.05],[1980,0.08],[2003,0.13]];
var rGreen = [[1870,-0.11],[1900,-0.03],[1920,0.005],[1931.7,0.025],[1960,0.04],[1980,0.07],[2003,0.105]];
var rBlue = [[1870,-0.11],[1900,-0.06],[1920,-0.025],[1931.7,-0.005],[1960,0.03],[1980,0.07],[2003,0.12]];

// ---------- helpers ----------
function stepped(start, step, ys){
  return ys.map(function(y, i){ return [start + i*step, y]; });
}
function zip(xs, ys){
  return xs.map(function(x, i){ return [x, ys[i]]; });
}

// per panel: [blue, red, green, black]
var panelData = [
  [stepped(1870.25,1,c1Blue), stepped(1870.5,1,c1Red), stepped(1870,1,c1Green), stepped(1870,0.5,c1Black)],
  [stepped(1870.25,0.5,c2Blue), stepped(1870.25,1,c2Red), stepped(1870.5,1,c2Green), stepped(1870,0.5,c2Black)],
  [zip(c3Years,c3Blue), zip(c3Years,c3Red), zip(c3Years,c3Green), zip(c3Years,c3Black)],
  [zip(c4Years,c4Blue), zip(c4Years,c4Red), zip(c4Years,c4Green), zip(c4Years,c4Black)],
  [c5Blue, c5Red, c5Green, c5Black],
  [c6Blue, c6Red, c6Green, c6Black],
  [c7Blue, c7Red, c7Green, c7Black],
  [c8Blue, c8Red, c8Green, c8Black],
  [c9Blue, c9Red, c9Green, c9Black],
  [rBlue, rRed, rGreen, rBlack]
];
var smoothPanel = [false,false,0.45,0.45,0.45,0.45,0.45,0.45,0.45,0.45];

// ---------- layout ----------
var FONT = 'Liberation Sans, Arial, Helvetica, sans-serif';
var INK = '#1a1a1a';
var colors = ['#2020c8','#ff1a1a','#10a048','#000000'];

var gridTop0 = 42, gridPitch = 71.5, gridH = 54;

var grids = [], xAxes = [], yAxes = [], series = [];

panelNames.forEach(function(name, i){
  var last = i === panelNames.length - 1;
  var noisy = i < 2;
  grids.push({
    left: 84, right: 5, top: gridTop0 + i*gridPitch, height: gridH,
    show: true, borderColor: INK, borderWidth: 4, backgroundColor: 'transparent'
  });
  xAxes.push({
    type: 'value', gridIndex: i, min: 1870, max: 2005, interval: 10,
    axisLine: {show: false}, axisTick: {show: false}, splitLine: {show: false},
    axisLabel: {
      show: last, margin: 11, color: INK, fontSize: 20, fontWeight: 'bold', fontFamily: FONT,
      formatter: function(v){ return (v % 20 === 0) ? String(v) : ''; }
    }
  });
  yAxes.push({
    type: 'value', gridIndex: i, min: panelMin[i], max: panelMax[i], interval: panelStep[i],
    name: name, nameLocation: 'middle', nameRotate: 90, nameGap: 41,
    nameTextStyle: {color: INK, fontSize: 25, fontWeight: 'bold', fontFamily: FONT},
    axisLine: {show: false}, axisTick: {show: false}, splitLine: {show: false},
    axisLabel: {margin: 5, color: INK, fontSize: 19, fontWeight: 'bold', fontFamily: FONT}
  });
  yAxes.push({
    type: 'value', gridIndex: i, position: 'right', min: panelMin[i], max: panelMax[i], interval: panelStep[i],
    axisLine: {show: false}, splitLine: {show: false}, axisLabel: {show: false},
    axisTick: {show: true, inside: true, length: 7, lineStyle: {color: INK, width: 2}}
  });

  // reference lines: dash-dot decade lines and dotted zero line
  var marks = gridYears.map(function(yr){
    return [{coord: [yr, panelMin[i]]}, {coord: [yr, panelMax[i]]}];
  });
  marks.push([
    {coord: [1870, 0], lineStyle: {type: [4, 5], width: 3, color: INK}},
    {coord: [2005, 0]}
  ]);

  panelData[i].forEach(function(d, k){
    var w = (k === 3) ? (noisy ? 1.4 : 1.2) : 1;
    var s = {
      type: 'line', xAxisIndex: i, yAxisIndex: 2*i, data: d,
      showSymbol: false, smooth: smoothPanel[i],
      lineStyle: {color: colors[k], width: w},
      z: 2 + k, silent: true
    };
    if (k === 0) {
      s.markLine = {
        silent: true, symbol: ['none','none'], label: {show: false},
        lineStyle: {color: INK, width: 3.5, type: [14, 11, 4, 11, 14, 40], cap: 'butt'},
        data: marks
      };
    }
    series.push(s);
  });
});

var chart = echarts.init(document.getElementById('chart'));
chart.setOption({
  animation: false,
  backgroundColor: '#ffffff',
  title: {
    text: 'EEMD Decomposition of CTI with Different Noise Levels',
    left: 527, top: 1, textAlign: 'center',
    textStyle: {color: INK, fontSize: 27, fontWeight: 'bold', fontFamily: FONT}
  },
  grid: grids,
  xAxis: xAxes,
  yAxis: yAxes,
  series: series
});
</script>
</body>
</html>
